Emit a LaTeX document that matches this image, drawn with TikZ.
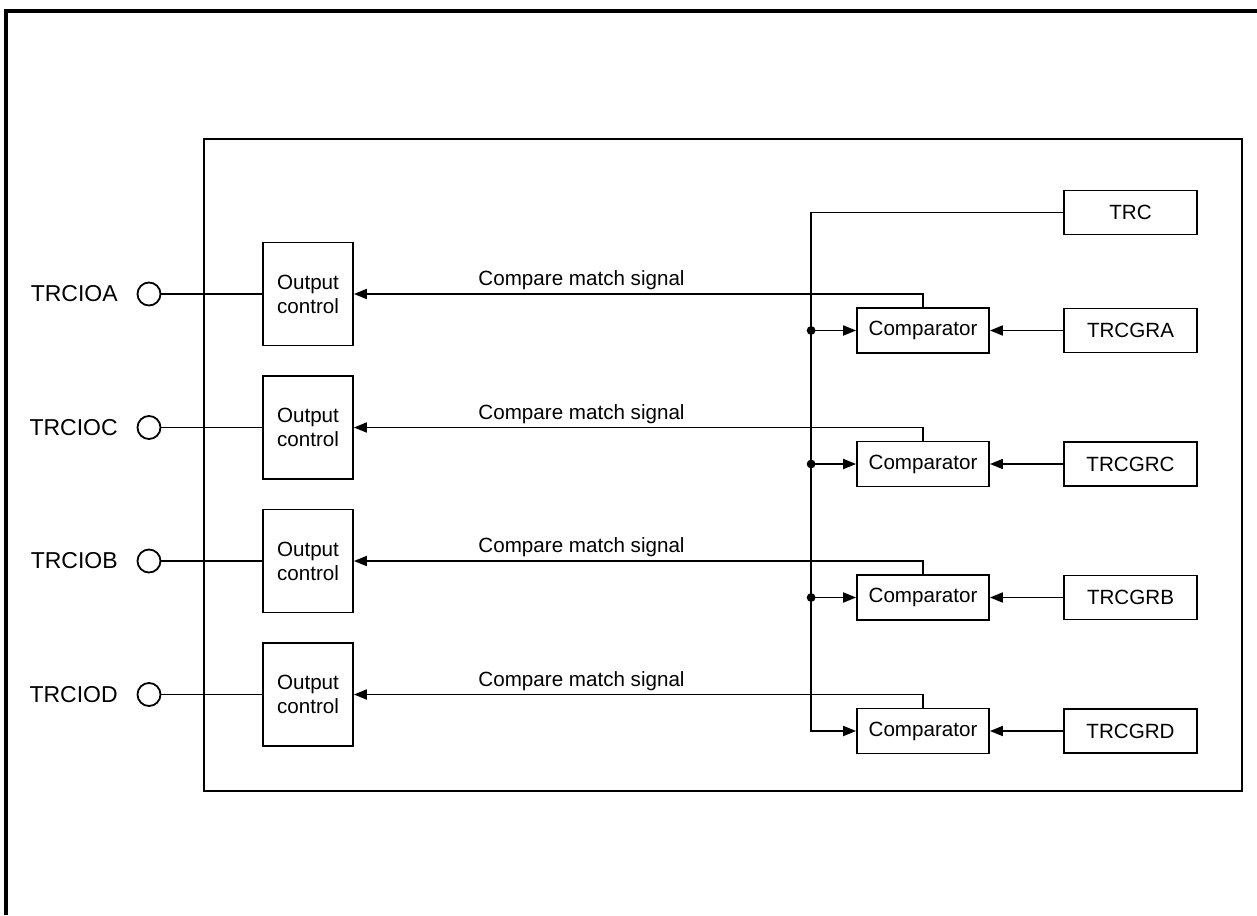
\documentclass[tikz,border=0pt]{standalone}
\usepackage{fontspec}
\setmainfont{Liberation Sans}
\usetikzlibrary{arrows.meta,positioning}

\begin{document}
\begin{tikzpicture}[
      x=0.5pt,y=-0.5pt,
      >={Triangle[length=6.5pt,width=5pt]},
      line width=0.9pt,
      blk/.style={draw,line width=0.9pt,font=\fontsize{10.3}{12}\selectfont,align=center,inner sep=0pt},
      outbox/.style={blk,minimum width=45pt,minimum height=51.5pt},
      cmpbox/.style={blk,minimum width=66pt,minimum height=22.5pt},
      regbox/.style={blk,minimum width=66.5pt,minimum height=22pt},
      pin/.style={circle,draw,line width=0.9pt,minimum size=11.5pt,inner sep=0pt},
      pinlbl/.style={font=\fontsize{11.5}{13.8}\selectfont,inner sep=0pt},
      sig/.style={font=\fontsize{10.3}{12}\selectfont,inner sep=1.5pt}
    ]
      \fill[white] (0,0) rectangle (1257,915);
      \useasboundingbox (0,0) rectangle (1257,915);
      \draw[line width=1.8pt] (1257,11) -- (6,11) -- (6,915);
      \draw (204,139) rectangle (1242,791);

      \node[regbox] (trc) at (1130.5,212.5) {TRC};
      \foreach \s [count=\k from 0] in {A,C,B,D} {
        \node[outbox] (out\s) at (308,{294+133.5*\k}) {Output\\control};
        \node[pin] (pin\s) at (149,{294+133.5*\k}) {};
        \node[pinlbl,left=9pt of pin\s] (lbl\s) {TRCIO\s};
        \node[cmpbox] (cmp\s) at (923,{330.5+133.5*\k}) {Comparator};
        \node[regbox] (reg\s) at (1130.5,{330.5+133.5*\k}) {TRCGR\s};
        \draw (pin\s) -- (out\s);
        \draw[->] (reg\s) -- (cmp\s);
        \draw[->] (cmp\s.north) |- (out\s.east)
              node[sig,pos=0.8,above] {Compare match signal};
      }
      \coordinate[left=22.5pt of cmpD.west] (bus);
      \draw[->] (trc) -| (bus) -- (cmpD);
      \foreach \s in {A,C,B} {
        \draw[->] (bus |- cmp\s) -- (cmp\s);
        \fill (bus |- cmp\s) circle (2.2pt);
      }
    \end{tikzpicture}
\end{document}
